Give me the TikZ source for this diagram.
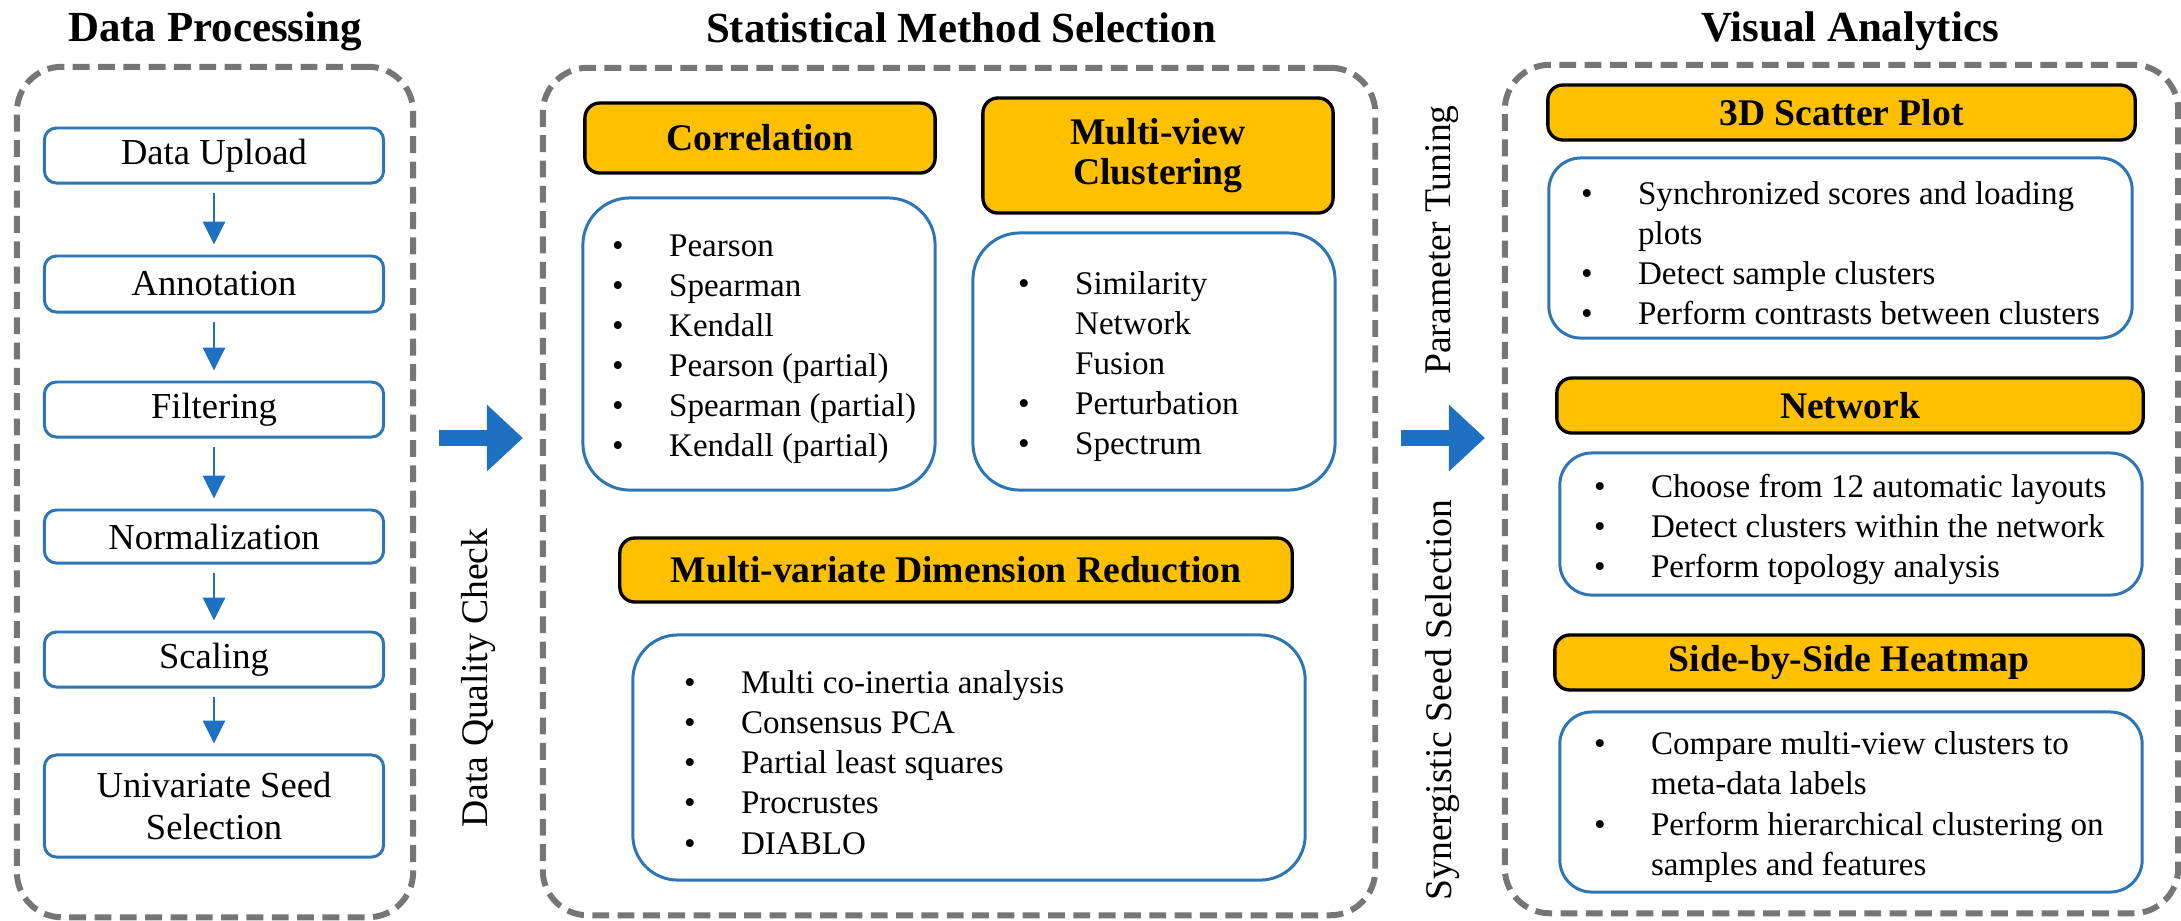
\documentclass[tikz,border=0pt]{standalone}
\usepackage{fontspec}
\setmainfont{Liberation Serif}
\usetikzlibrary{arrows.meta,positioning}

\definecolor{hdrorange}{HTML}{FFC000}
\definecolor{boxblue}{HTML}{2E75B6}
\definecolor{flowblue}{HTML}{1E70C3}
\definecolor{dashgray}{HTML}{767676}

% bullet and indent for the lists
\newcommand{\bul}{\makebox[0.57cm][l]{\textbullet}}
\newcommand{\nobul}{\hspace*{0.57cm}}

\tikzset{
    panel/.style={draw=dashgray, line width=1.7pt, dash pattern=on 4.8pt off 2.4pt,
        rounded corners=0.45cm, inner sep=0pt},
    title/.style={anchor=base, font=\fontsize{12.2}{14}\selectfont\bfseries},
    stepbox/.style={draw=boxblue, line width=0.85pt, rounded corners=0.12cm,
        minimum width=3.39cm, inner sep=0pt, align=center,
        font=\fontsize{10.4}{12.2}\selectfont},
    hdr/.style={draw=black, fill=hdrorange, line width=0.95pt, rounded corners=0.15cm,
        inner sep=0pt, align=center, font=\fontsize{10.7}{11.4}\selectfont\bfseries},
    listbox/.style={draw=boxblue, line width=0.85pt, inner sep=0pt},
    listtxt/.style={anchor=west, align=left, inner sep=0pt, yshift=-0.05cm,
        font=\fontsize{9.4}{11.4}\selectfont},
    sidetxt/.style={rotate=90, inner sep=0pt, font=\fontsize{10.7}{12}\selectfont},
    flow/.style={draw=flowblue, line width=0.75pt,
        -{Triangle[length=6.5pt,width=6.3pt]},
        shorten <=0.08cm, shorten >=0.10cm},
    bigflow/.style={draw=flowblue, line width=4.8pt,
        -{Triangle[length=10.2pt,width=19pt,line width=0pt]},
        shorten <=0.23cm, shorten >=0.17cm}
}

\begin{document}
\begin{tikzpicture}[x=0.01cm,y=-0.01cm]
    \useasboundingbox (0,0) rectangle (2181,920);

    % Panels:
    \node[panel, minimum width=3.96cm, minimum height=8.50cm] (proc) at (215,492) {};
    \node[panel, minimum width=8.32cm, minimum height=8.47cm] (stat) at (959,491.5) {};
    \node[panel, minimum width=6.73cm, minimum height=8.48cm] (vis) at (1841.5,489) {};

    \node[title] (proctitle) at (215,41) {Data Processing};
    \node[title] (stattitle) at (961,42) {Statistical Method Selection};
    \node[title] (vistitle) at (1850,41) {Visual Analytics};

    % Data processing steps:
    \foreach \name/\y/\h/\txt in {
            upload/155.5/0.55/Data Upload,
            annot/284/0.56/Annotation,
            filter/409.5/0.55/Filtering,
            norm/536.5/0.53/Normalization,
            scaling/659.5/0.55/Scaling,
            seed/806/1.02/{Univariate Seed\\Selection}} {
        \node[stepbox, minimum height=\h cm] (\name) at (214,\y) {\txt};
    }
    \foreach \a/\b in {upload/annot, annot/filter, filter/norm, norm/scaling, scaling/seed}
        \draw[flow] (\a) -- (\b);

    % Statistical methods:
    \node[hdr, minimum width=3.50cm, minimum height=0.70cm] (corrhdr) at (760,138) {Correlation};
    \node[listbox, rounded corners=0.47cm, minimum width=3.52cm, minimum height=2.92cm]
        (corrlist) at (759,344) {};
    \node[listtxt] (corrtxt) at ([xshift=0.30cm]corrlist.west) {%
        \bul Pearson\\ \bul Spearman\\ \bul Kendall\\
        \bul Pearson (partial)\\ \bul Spearman (partial)\\ \bul Kendall (partial)};

    \node[hdr, minimum width=3.50cm, minimum height=1.15cm] (mvchdr) at (1158,155.5)
        {Multi-view\\Clustering};
    \node[listbox, rounded corners=0.47cm, minimum width=3.62cm, minimum height=2.57cm]
        (mvclist) at (1154,361.5) {};
    \node[listtxt] (mvctxt) at ([xshift=0.46cm]mvclist.west) {%
        \bul Similarity\\ \nobul Network\\ \nobul Fusion\\
        \bul Perturbation\\ \bul Spectrum};

    \node[hdr, minimum width=6.72cm, minimum height=0.64cm] (mdrhdr) at (956,570)
        {Multi-variate Dimension Reduction};
    \node[listbox, rounded corners=0.45cm, minimum width=6.72cm, minimum height=2.45cm]
        (mdrlist) at (969,757.5) {};
    \node[listtxt] (mdrtxt) at ([xshift=0.52cm]mdrlist.west) {%
        \bul Multi co-inertia analysis\\ \bul Consensus PCA\\
        \bul Partial least squares\\ \bul Procrustes\\ \bul DIABLO};

    % Visual analytics:
    \node[hdr, minimum width=5.87cm, minimum height=0.55cm] (scathdr) at (1841.5,112.5)
        {3D Scatter Plot};
    \node[listbox, rounded corners=0.32cm, minimum width=5.83cm, minimum height=1.80cm]
        (scatlist) at (1840.5,248) {};
    \node[listtxt] (scattxt) at ([xshift=0.33cm]scatlist.west) {%
        \bul Synchronized scores and loading\\ \nobul plots\\
        \bul Detect sample clusters\\ \bul Perform contrasts between clusters};

    \node[hdr, minimum width=5.86cm, minimum height=0.55cm] (nethdr) at (1850,405.5) {Network};
    \node[listbox, rounded corners=0.32cm, minimum width=5.82cm, minimum height=1.42cm]
        (netlist) at (1851,524) {};
    \node[listtxt] (nettxt) at ([xshift=0.35cm]netlist.west) {%
        \bul Choose from 12 automatic layouts\\
        \bul Detect clusters within the network\\ \bul Perform topology analysis};

    \node[hdr, minimum width=5.88cm, minimum height=0.55cm] (heathdr) at (1849,662.5)
        {Side-by-Side Heatmap};
    \node[listbox, rounded corners=0.32cm, minimum width=5.82cm, minimum height=1.80cm]
        (heatlist) at (1851,802) {};
    \node[listtxt] (heattxt) at ([xshift=0.35cm]heatlist.west) {%
        \bul Compare multi-view clusters to\\ \nobul meta-data labels\\
        \bul Perform hierarchical clustering on\\ \nobul samples and features};

    % Arrows between the panels:
    \coordinate (arrowrow) at (0,438);
    \draw[bigflow] (proc.east |- arrowrow) -- (stat.west |- arrowrow);
    \draw[bigflow] (stat.east |- arrowrow) -- (vis.west |- arrowrow);

    \node[sidetxt] (dqc) at (479,678) {Data Quality Check};
    \node[sidetxt] (tune) at (1442,240) {Parameter Tuning};
    \node[sidetxt] (synseed) at (1442,700) {Synergistic Seed Selection};
\end{tikzpicture}
\end{document}
